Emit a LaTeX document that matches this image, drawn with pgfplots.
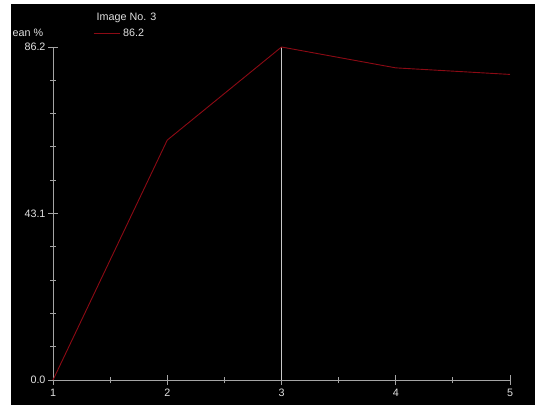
\documentclass[border=0pt]{standalone}
\usepackage{pgfplots}
\pgfplotsset{compat=1.18}
\usepackage{fontspec}
\setmainfont{Liberation Sans}
\definecolor{axgray}{RGB}{165,165,165}
\definecolor{txtgray}{RGB}{225,225,225}
\definecolor{cursor}{RGB}{200,200,200}
\definecolor{dred}{RGB}{140,10,20}
\newcommand{\fnt}{\fontsize{10.8}{12}\selectfont}
\begin{document}
\begin{tikzpicture}
\fill[white] (0,0) rectangle (535bp,405bp);
\fill[black] (11bp,0) rectangle (535bp,401bp);
\path[use as bounding box] (0,0) rectangle (535bp,405bp);
\begin{axis}[
  at={(53bp,25bp)}, anchor=south west,
  scale only axis, width=457bp, height=333bp,
  xmin=1, xmax=5, ymin=0, ymax=86.2,
  axis x line*=bottom, axis y line*=left,
  axis line style={axgray, -, line width=0.8bp},
  xtick={1,2,3,4,5}, ytick={0,43.1,86.2},
  yticklabels={0.0,43.1,86.2},
  minor x tick num=1, minor y tick num=4,
  tick align=center,
  major tick length=9bp, minor tick length=6bp,
  every tick/.style={axgray, line width=0.8bp},
  ticklabel style={font=\fnt, text=txtgray},
  /pgf/number format/assume math mode=true,
  xticklabel style={yshift=-3bp, inner sep=1bp},
  yticklabel style={xshift=0.5bp},
  clip=false,
  legend style={draw=none, fill=none, text=txtgray, font=\fnt,
    at={(rel axis cs:0.0875,1.042)}, anchor=west, inner sep=0pt,
    nodes={inner sep=3bp}},
  legend image code/.code={\draw[#1] (0bp,0bp) -- (26bp,0bp);},
]
\addplot[cursor, line width=0.8bp, forget plot] coordinates {(3,0) (3,86.2)};
\addplot[dred, line width=0.9bp] coordinates {(1,0) (2,62.1) (3,86.2) (4,80.8) (5,79.1)};
\addlegendentry{86.2}
\end{axis}
\node[anchor=west, text=txtgray, font=\fnt, inner sep=0pt] at (96.5bp,387bp) {Image No. 3};
\node[anchor=west, text=txtgray, font=\fnt, inner sep=0pt] at (12.5bp,372bp) {ean \%};
\end{tikzpicture}
\end{document}
